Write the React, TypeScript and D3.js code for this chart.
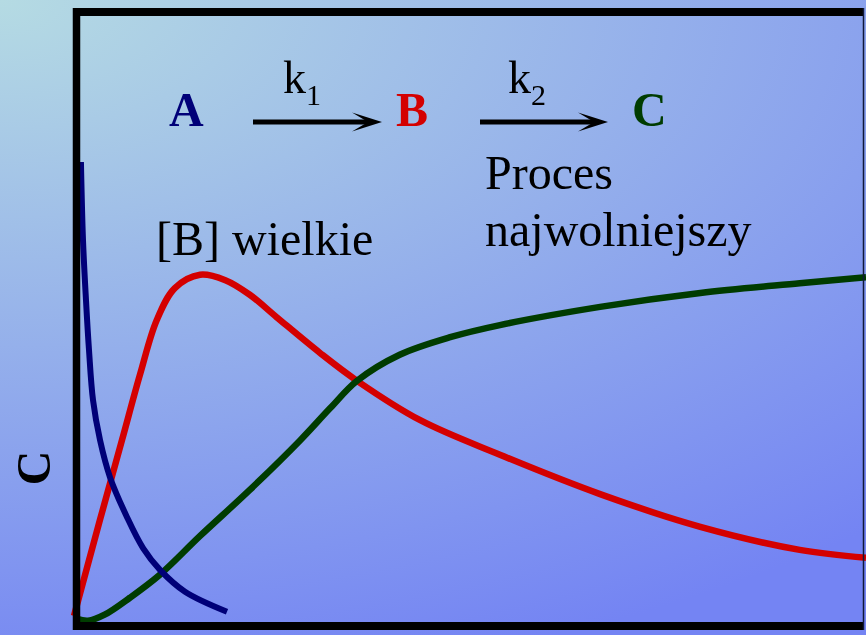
import React from "react";
import * as d3 from "d3";

// Time axis (arbitrary units) and concentrations
const timeA = [0.05, 0.076, 0.114, 0.152, 0.203, 0.292, 0.418, 0.634, 0.837, 1.052, 1.369, 1.901];
const concA = [0.759, 0.63, 0.531, 0.449, 0.366, 0.3, 0.239, 0.173, 0.122, 0.086, 0.05, 0.017];

const timeB = [-0.038, 0.29, 0.57, 0.8, 1.01, 1.24, 1.56, 1.88, 2.19, 2.53, 3.08, 3.55, 4.35, 5.36, 6.63, 7.9, 9.16, 10.0];
const concB = [0.01, 0.168, 0.3, 0.409, 0.498, 0.551, 0.573, 0.564, 0.54, 0.503, 0.444, 0.398, 0.333, 0.276, 0.211, 0.157, 0.119, 0.106];

const timeC = [0.0, 0.14, 0.35, 0.67, 1.05, 1.56, 2.19, 2.83, 3.21, 3.55, 4.09, 4.73, 5.36, 6.63, 7.9, 9.16, 10.0];
const concC = [0.005, 0.002, 0.012, 0.04, 0.078, 0.142, 0.218, 0.3, 0.353, 0.398, 0.441, 0.47, 0.49, 0.52, 0.543, 0.559, 0.569];

const seriesNames = ["A", "B", "C"];
const seriesColors = ["#000078", "#d40000", "#003c00"];
const rateLabels = ["1", "2"];
const noteB = "[B] wielkie";
const noteSlow = ["Proces", "najwolniejszy"];
const axisLabel = "C";

const W = 866;
const H = 635;
const SERIF = "'Liberation Serif', 'Times New Roman', serif";

export default function App() {
  const x = d3.scaleLinear().domain([0, 10]).range([77, 866]);
  const y = d3.scaleLinear().domain([0, 1]).range([622, 16]);
  const line = d3
    .line<[number, number]>()
    .x((d) => x(d[0]))
    .y((d) => y(d[1]))
    .curve(d3.curveCatmullRom.alpha(0.5));

  const data: [number, number][][] = [
    timeA.map((t, i) => [t, concA[i]]),
    timeB.map((t, i) => [t, concB[i]]),
    timeC.map((t, i) => [t, concC[i]]),
  ];

  const arrow = (x0: number, x1: number, yy: number, key: string) => (
    <g key={key}>
      <line x1={x0} x2={x1 - 12} y1={yy} y2={yy} stroke="#000" strokeWidth={5} />
      <path
        d={`M${x1},${yy} L${x1 - 30},${yy - 9.5} L${x1 - 14},${yy} L${x1 - 30},${yy + 9.5} Z`}
        fill="#000"
      />
    </g>
  );

  return (
    <svg
      width={W}
      height={H}
      style={{ position: "fixed", left: 0, top: 0, display: "block" }}
      fontFamily={SERIF}
    >
      <defs>
        <radialGradient
          id="bg"
          gradientUnits="userSpaceOnUse"
          cx={0}
          cy={0}
          r={700}
          gradientTransform="scale(1.9,1)"
        >
          <stop offset="0" stopColor="#b5dbe3" />
          <stop offset="1" stopColor="#7484f3" />
        </radialGradient>
        <clipPath id="clip">
          <rect x={0} y={0} width={W} height={H} />
        </clipPath>
      </defs>
      <rect x={0} y={0} width={W} height={H} fill="url(#bg)" />

      {/* curves */}
      <g clipPath="url(#clip)" fill="none" strokeLinecap="butt" strokeLinejoin="round">
        <path d={line(data[1]) || ""} stroke={seriesColors[1]} strokeWidth={6.5} />
        <path d={line(data[2]) || ""} stroke={seriesColors[2]} strokeWidth={6.5} />
        <path d={line(data[0]) || ""} stroke={seriesColors[0]} strokeWidth={6} />
      </g>

      {/* frame */}
      <line x1={76.5} x2={76.5} y1={8} y2={630} stroke="#000" strokeWidth={7.5} />
      <line x1={73} x2={864} y1={12} y2={12} stroke="#000" strokeWidth={8} />
      <line x1={73} x2={864} y1={626} y2={626} stroke="#000" strokeWidth={8} />
      <line x1={863.5} x2={863.5} y1={8} y2={630} stroke="#10183a" strokeWidth={1.5} />

      {/* reaction scheme */}
      <g fontWeight="bold" fontSize={48}>
        <text x={169} y={126} fill={seriesColors[0]}>{seriesNames[0]}</text>
        <text x={396} y={126} fill={seriesColors[1]}>{seriesNames[1]}</text>
        <text x={632} y={126} fill={seriesColors[2]}>{seriesNames[2]}</text>
      </g>
      {arrow(253, 382, 122, "a1")}
      {arrow(480, 608, 122, "a2")}
      <text x={283} y={93} fontSize={46} fill="#000">
        k<tspan fontSize={30} dy={12}>{rateLabels[0]}</tspan>
      </text>
      <text x={508} y={93} fontSize={46} fill="#000">
        k<tspan fontSize={30} dy={12}>{rateLabels[1]}</tspan>
      </text>

      <text x={485} y={189} fontSize={48} fill="#000">{noteSlow[0]}</text>
      <text x={485} y={246} fontSize={48} fill="#000">{noteSlow[1]}</text>
      <text x={156} y={255} fontSize={48} fill="#000">{noteB}</text>

      <text
        transform="translate(50,468) rotate(-90)"
        textAnchor="middle"
        fontSize={48}
        fontWeight="bold"
        fill="#000"
      >
        {axisLabel}
      </text>
    </svg>
  );
}
